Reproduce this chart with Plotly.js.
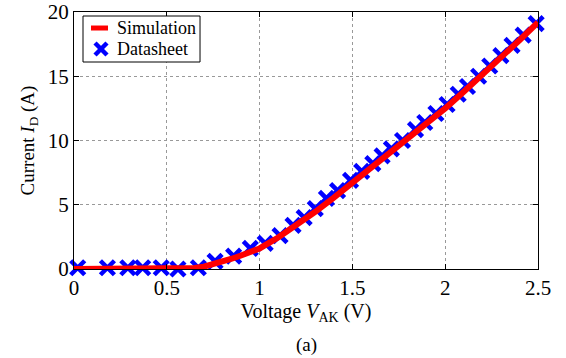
<!DOCTYPE html>
<html>
<head>
<meta charset="utf-8">
<script src="https://cdn.plot.ly/plotly-3.0.1.min.js"></script>
<style>html,body{margin:0;padding:0;background:#fff;}#chart{width:566px;height:358px;}</style>
</head>
<body>
<div id="chart"></div>
<script>
// Simulation curve
const simV = [0,0.1,0.2,0.3,0.4,0.5,0.55,0.6,0.65,0.7,0.75,0.8,0.85,0.9,0.95,1.0,1.1,1.2,1.3,1.4,1.5,1.6,1.7,1.8,1.9,2.0,2.1,2.2,2.3,2.4,2.5];
const simI = [0,0,0,0,0,0.01,0.03,0.05,0.08,0.18,0.35,0.55,0.8,1.05,1.32,1.6,2.45,3.4,4.45,5.55,6.7,7.85,9.0,10.15,11.3,12.5,13.8,15.1,16.45,17.8,19.2];
// Datasheet points
const dsV = [0.02,0.18,0.29,0.37,0.47,0.56,0.67,0.76,0.86,0.95,1.03,1.11,1.18,1.24,1.30,1.36,1.42,1.49,1.55,1.61,1.66,1.71,1.77,1.84,1.89,1.95,2.01,2.07,2.12,2.18,2.24,2.30,2.36,2.42,2.49];
const dsI = [0.1,0.1,0.1,0.1,0.1,0.0,0.1,0.6,1.0,1.6,2.0,2.6,3.4,4.0,4.7,5.5,6.1,6.9,7.6,8.2,8.8,9.35,10.0,10.85,11.4,12.1,12.8,13.6,14.2,15.0,15.8,16.6,17.4,18.2,19.1];
// Ticks
const xTicks = [0,0.5,1,1.5,2,2.5];
const xTickText = ['0','0.5','1','1.5','2','2.5'];
const yTicks = [0,5,10,15,20];
const yTickText = ['0','5','10','15','20'];
// Legend labels
const legendLabels = ['Simulation', 'Datasheet'];

const font = 'Liberation Serif, Times New Roman, serif';
const blue = '#0000ff', red = '#ff0000';

const traces = [
  {x: dsV, y: dsI, type: 'scatter', mode: 'markers', name: legendLabels[1], cliponaxis: false,
   marker: {symbol: 'x-thin', size: 14, color: blue, line: {color: blue, width: 4.5}}},
  {x: simV, y: simI, type: 'scatter', mode: 'lines', name: legendLabels[0], cliponaxis: false,
   line: {color: red, width: 6}}
];

const axisCommon = {
  showline: true, linecolor: '#000', linewidth: 1, mirror: 'ticks',
  ticks: 'inside', ticklen: 5, tickcolor: '#000', tickwidth: 1,
  showgrid: true, gridcolor: '#999', griddash: 'dot', gridwidth: 1,
  zeroline: false, tickfont: {family: font, size: 21, color: '#000'}
};

// manual legend (paper coordinates of the plot area)
const shapes = [
  {type: 'rect', xref: 'paper', yref: 'paper', x0: 0.0194, x1: 0.2716, y0: 0.8054, y1: 0.9844,
   line: {color: '#000', width: 1}, fillcolor: '#fff', layer: 'above'},
  {type: 'line', xref: 'paper', yref: 'paper', x0: 0.0366, x1: 0.0733, y0: 0.9377, y1: 0.9377,
   line: {color: red, width: 5}, layer: 'above'},
  {type: 'line', xref: 'paper', yref: 'paper', x0: 0.0453, x1: 0.0711, y0: 0.8794, y1: 0.8327,
   line: {color: blue, width: 4.5}, layer: 'above'},
  {type: 'line', xref: 'paper', yref: 'paper', x0: 0.0453, x1: 0.0711, y0: 0.8327, y1: 0.8794,
   line: {color: blue, width: 4.5}, layer: 'above'}
];

const layout = {
  width: 566, height: 358,
  margin: {l: 74, r: 28, t: 12, b: 89},
  paper_bgcolor: '#fff', plot_bgcolor: '#fff',
  font: {family: font, color: '#000'},
  showlegend: false,
  xaxis: Object.assign({}, axisCommon, {
    range: [0, 2.5], tickmode: 'array', tickvals: xTicks, ticktext: xTickText,
    title: {text: 'Voltage <i>V</i><sub>AK</sub> (V)', font: {family: font, size: 20, color: '#000'}, standoff: 2}
  }),
  yaxis: Object.assign({}, axisCommon, {
    range: [0, 20], tickmode: 'array', tickvals: yTicks, ticktext: yTickText,
    title: {text: 'Current <i>I</i><sub>D</sub> (A)', font: {family: font, size: 19, color: '#000'}, standoff: 8}
  }),
  shapes: shapes,
  annotations: [
    {text: legendLabels[0], xref: 'paper', yref: 'paper', x: 0.0905, y: 0.9377, xanchor: 'left', yanchor: 'middle',
     showarrow: false, borderpad: 0, font: {family: font, size: 18, color: '#000'}},
    {text: legendLabels[1], xref: 'paper', yref: 'paper', x: 0.0905, y: 0.856, xanchor: 'left', yanchor: 'middle',
     showarrow: false, borderpad: 0, font: {family: font, size: 18, color: '#000'}},
    {text: '(a)', xref: 'paper', yref: 'paper', x: 0.5, y: -0.296, xanchor: 'center', yanchor: 'middle',
     showarrow: false, font: {family: font, size: 19, color: '#000'}}
  ]
};

Plotly.newPlot('chart', traces, layout, {displayModeBar: false, staticPlot: true});
</script>
</body>
</html>
